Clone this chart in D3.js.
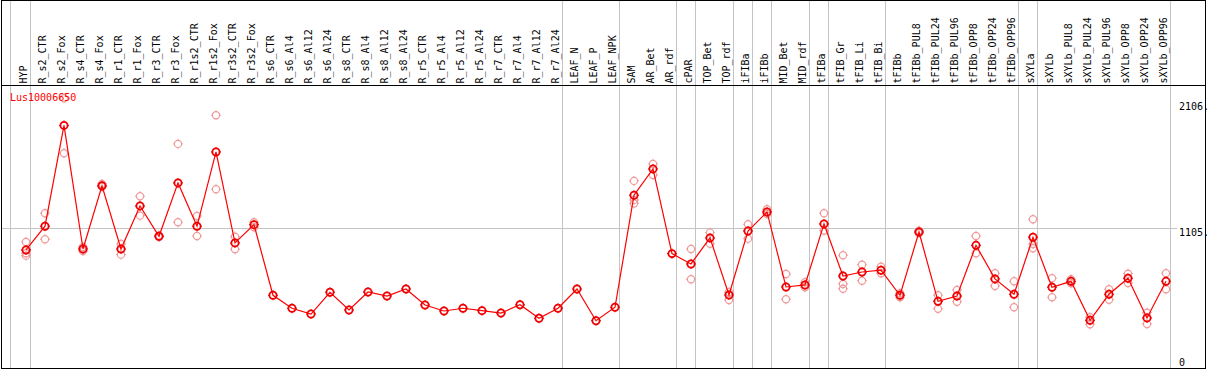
<!DOCTYPE html>
<html>
<head>
<meta charset="utf-8">
<script src="https://cdn.jsdelivr.net/npm/d3@7/dist/d3.min.js"></script>
<style>
  body { margin: 0; background: #fff; }
</style>
</head>
<body>
<div id="chart"></div>
<script>
// sample names along the top
var categories = [
  'HYP', 'R_s2_CTR', 'R_s2_Fox', 'R_s4_CTR', 'R_s4_Fox', 'R_r1_CTR', 'R_r1_Fox', 'R_r3_CTR', 'R_r3_Fox', 'R_r1s2_CTR',
  'R_r1s2_Fox', 'R_r3s2_CTR', 'R_r3s2_Fox', 'R_s6_CTR', 'R_s6_Al4', 'R_s6_Al12', 'R_s6_Al24', 'R_s8_CTR', 'R_s8_Al4', 'R_s8_Al12',
  'R_s8_Al24', 'R_r5_CTR', 'R_r5_Al4', 'R_r5_Al12', 'R_r5_Al24', 'R_r7_CTR', 'R_r7_Al4', 'R_r7_Al12', 'R_r7_Al24', 'LEAF_N',
  'LEAF_P', 'LEAF_NPK', 'SAM', 'AR_Bet', 'AR_rdf', 'cPAR', 'TOP_Bet', 'TOP_rdf', 'iFIBa', 'iFIBb',
  'MID_Bet', 'MID_rdf', 'tFIBa', 'tFIB_Gr', 'tFIB_Li', 'tFIB_Bi', 'tFIBb', 'tFIBb_PUL8', 'tFIBb_PUL24', 'tFIBb_PUL96',
  'tFIBb_OPP8', 'tFIBb_OPP24', 'tFIBb_OPP96', 'sXYLa', 'sXYLb', 'sXYLb_PUL8', 'sXYLb_PUL24', 'sXYLb_PUL96', 'sXYLb_OPP8', 'sXYLb_OPP24',
  'sXYLb_OPP96'
];

// mean expression (the red line)
var meanValues = [
  930, 1119, 1920, 938, 1440, 938, 1280, 1039, 1463, 1119,
  1709, 986, 1131, 570, 467, 421, 594, 453, 596, 564,
  620, 493, 445, 467, 448, 429, 495, 387, 467, 620,
  368, 475, 1365, 1574, 901, 819, 1026, 572, 1081, 1232,
  636, 652, 1137, 723, 755, 769, 570, 1073, 522, 564,
  967, 700, 578, 1031, 634, 681, 371, 578, 705, 390,
  681
];

// replicates (pink circles), null = not shown
var rep1 = [
  994, 1222, 2136, 954, 1455, 978, 1357, 1044, 1773, 1200,
  2001, 1036, 1150, null, null, null, null, null, null, null,
  null, null, null, null, null, null, null, null, null, null,
  null, null, 1479, 1614, null, 938, 1068, 594, 1134, 1254,
  739, 673, 1222, 888, 813, 797, 586, 1084, 570, 612,
  1041, 745, 681, 1174, 705, 697, 395, 618, 742, 432,
  745
];
var rep2 = [
  904, 1015, 1699, 922, 1433, 893, 1203, 1033, 1150, 1041,
  1413, 936, 1111, null, null, null, null, null, null, null,
  null, null, null, null, null, null, null, null, null, null,
  null, null, 1328, 1526, null, 697, 980, 533, 1020, 1216,
  538, 634, 1084, 660, 686, 745, 554, 1065, 463, 519,
  904, 644, 475, 978, 554, 665, 339, 535, 668, 342,
  618
];
var rep3 = [
  885, null, null, null, null, null, null, null, null, null,
  null, null, null, null, null, null, null, null, null, null,
  null, null, null, null, null, null, null, null, null, null,
  null, null, 1300, null, null, null, null, null, null, null,
  null, null, null, 622, null, null, null, null, null, null,
  null, null, null, 944, null, null, null, null, null, null,
  null
];

// a gray divider follows each of these samples
var groupEnds = ['HYP', 'R_r7_Al24', 'LEAF_NPK', 'AR_rdf', 'cPAR', 'TOP_rdf', 'iFIBa', 'iFIBb',
  'MID_rdf', 'tFIBa', 'tFIB_Bi', 'tFIBb_OPP96', 'sXYLa', 'sXYLb_OPP96'];

var yTickValues = [0, 1105, 2106];
var yTickLabels = ['0', '1105.', '2106.'];
var gridValues = [1105];
var geneName = 'Lus10006650';

var svgWidth = 1209;
var svgHeight = 370;
var font = '"DejaVu Sans Mono", monospace';

var svg = d3.select('#chart')
  .append('svg')
  .attr('width', svgWidth)
  .attr('height', svgHeight)
  .style('display', 'block');

// scales
var x = d3.scalePoint()
  .domain(categories)
  .range([26, 1166]);

var y = d3.scaleLinear()
  .domain([0, 2106])
  .range([367, 102]);

var step = x.step();

// vertical dividers (full height)
var dividerX = [x('HYP') - step + 3.5].concat(groupEnds.map(d => x(d) + 4.5));
svg.selectAll('.divider')
  .data(dividerX)
  .enter()
  .append('line')
  .attr('x1', d => Math.round(d - 0.5) + 0.5)
  .attr('x2', d => Math.round(d - 0.5) + 0.5)
  .attr('y1', 0)
  .attr('y2', 368)
  .attr('stroke', '#c4c4c4')
  .attr('stroke-width', 1);

// horizontal grid
svg.selectAll('.hgrid')
  .data(gridValues)
  .enter()
  .append('line')
  .attr('x1', 1)
  .attr('x2', 1177)
  .attr('y1', d => Math.round(y(d)) + 0.5)
  .attr('y2', d => Math.round(y(d)) + 0.5)
  .attr('stroke', '#c4c4c4')
  .attr('stroke-width', 1);

// frame
svg.append('rect')
  .attr('x', 1.5)
  .attr('y', 0.5)
  .attr('width', 1204)
  .attr('height', 368)
  .attr('fill', 'none')
  .attr('stroke', '#000')
  .attr('stroke-width', 1);

svg.append('line')
  .attr('x1', 1)
  .attr('x2', 1206)
  .attr('y1', 85.5)
  .attr('y2', 85.5)
  .attr('stroke', '#000')
  .attr('stroke-width', 1);

// sample labels
svg.selectAll('.sampleLabel')
  .data(categories)
  .enter()
  .append('text')
  .attr('transform', d => `translate(${x(d) + 1}, 83.5) rotate(-90)`)
  .attr('font-family', font)
  .attr('font-size', '10px')
  .attr('fill', '#000')
  .text(d => d);

// y labels on the right
svg.selectAll('.yLabel')
  .data(yTickValues)
  .enter()
  .append('text')
  .attr('x', 1179)
  .attr('y', d => Math.min(y(d) + 4.5, 362))
  .attr('dy', '0.35em')
  .attr('font-family', font)
  .attr('font-size', '10px')
  .attr('fill', '#000')
  .text((d, i) => yTickLabels[i]);

// marker: circle with small ticks
function marker(sel, color, width) {
  sel.append('circle')
    .attr('r', 3.6)
    .attr('fill', 'none')
    .attr('stroke', color)
    .attr('stroke-width', width);
  sel.append('path')
    .attr('d', 'M0,-5V-3.5M0,3.5V5M-5,0H-3.5M3.5,0H5')
    .attr('stroke', color)
    .attr('stroke-width', 1);
}

// replicate points
var repPoints = [];
[rep1, rep2, rep3].forEach(function(rep) {
  rep.forEach(function(v, i) {
    if (v !== null) repPoints.push({ cat: categories[i], value: v });
  });
});

svg.selectAll('.rep')
  .data(repPoints)
  .enter()
  .append('g')
  .attr('transform', d => `translate(${x(d.cat)}, ${y(d.value)})`)
  .call(marker, '#f09a9a', 1.2);

// mean line
var line = d3.line()
  .x((d, i) => x(categories[i]))
  .y(d => y(d));

svg.append('path')
  .datum(meanValues)
  .attr('d', line)
  .attr('fill', 'none')
  .attr('stroke', '#ff0000')
  .attr('stroke-width', 1.2);

svg.selectAll('.meanPt')
  .data(meanValues)
  .enter()
  .append('g')
  .attr('transform', (d, i) => `translate(${x(categories[i])}, ${y(d)})`)
  .call(marker, '#ee0000', 1.8);

// gene name
svg.append('text')
  .attr('x', 10)
  .attr('y', 101)
  .attr('font-family', font)
  .attr('font-size', '10px')
  .attr('fill', '#ff0000')
  .text(geneName);
</script>
</body>
</html>
